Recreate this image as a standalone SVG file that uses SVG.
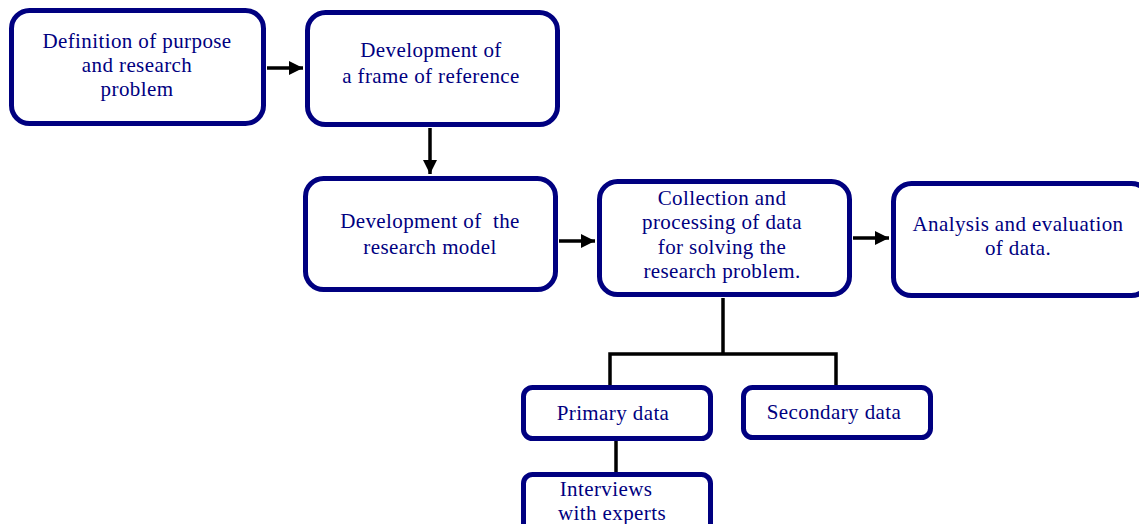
<svg xmlns="http://www.w3.org/2000/svg" width="1139" height="524" viewBox="0 0 1139 524">
  <style>
    .box { fill: #ffffff; stroke: #000080; stroke-width: 5; }
    .lbl { font-family: "Liberation Serif", "Times New Roman", serif; font-size: 21px; letter-spacing: 0.4px; fill: #000080; text-anchor: middle; }
    .wire { fill: none; stroke: #000000; stroke-width: 3.5; }
  </style>
  <defs>
    <marker id="head" viewBox="0 0 10 10" refX="10" refY="5" markerWidth="4" markerHeight="4" orient="auto" markerUnits="strokeWidth">
      <path d="M0,0 L10,5 L0,10 Z" fill="#000000"/>
    </marker>
  </defs>
  <rect width="1139" height="524" fill="#ffffff"/>

  <!-- arrows and tree lines -->
  <g id="connectors">
    <line class="wire" x1="267" y1="68" x2="303" y2="68" marker-end="url(#head)"/>
    <line class="wire" x1="430" y1="128" x2="430" y2="174" marker-end="url(#head)"/>
    <line class="wire" x1="559" y1="241" x2="595" y2="241" marker-end="url(#head)"/>
    <line class="wire" x1="853" y1="238" x2="889" y2="238" marker-end="url(#head)"/>
    <polyline class="wire" points="723,298 723,354"/>
    <polyline class="wire" points="610,385 610,354 836,354 836,385"/>
    <line class="wire" x1="616" y1="441" x2="616" y2="472"/>
  </g>

  <g id="n-purpose">
    <rect class="box" x="11.5" y="10.5" width="252" height="113" rx="18"/>
    <text class="lbl" x="137" y="48">Definition of purpose</text>
    <text class="lbl" x="137" y="72">and research</text>
    <text class="lbl" x="137" y="96">problem</text>
  </g>

  <g id="n-frame">
    <rect class="box" x="307.5" y="12.5" width="250" height="112" rx="18"/>
    <text class="lbl" x="431" y="57">Development of</text>
    <text class="lbl" x="431" y="83">a frame of reference</text>
  </g>

  <g id="n-model">
    <rect class="box" x="305.5" y="178.5" width="250" height="111" rx="18"/>
    <text class="lbl" x="430" y="228" xml:space="preserve">Development of  the</text>
    <text class="lbl" x="430" y="254">research model</text>
  </g>

  <g id="n-collection">
    <rect class="box" x="599.5" y="181.5" width="250" height="113" rx="18"/>
    <text class="lbl" x="722" y="205">Collection and</text>
    <text class="lbl" x="722" y="229">processing of data</text>
    <text class="lbl" x="722" y="254">for solving the</text>
    <text class="lbl" x="722" y="278">research problem.</text>
  </g>

  <g id="n-analysis">
    <rect class="box" x="893.5" y="183.5" width="256" height="112" rx="18"/>
    <text class="lbl" x="1018" y="231">Analysis and evaluation</text>
    <text class="lbl" x="1018" y="255">of data.</text>
  </g>

  <g id="n-primary">
    <rect class="box" x="523.5" y="387.5" width="187" height="51" rx="9"/>
    <text class="lbl" x="613" y="420">Primary data</text>
  </g>

  <g id="n-secondary">
    <rect class="box" x="743.5" y="387.5" width="187" height="50" rx="9"/>
    <text class="lbl" x="834" y="419">Secondary data</text>
  </g>

  <g id="n-interviews">
    <rect class="box" x="523.5" y="474.5" width="187" height="60" rx="9"/>
    <text class="lbl" x="606" y="496">Interviews</text>
    <text class="lbl" x="612" y="520">with experts</text>
  </g>
</svg>
